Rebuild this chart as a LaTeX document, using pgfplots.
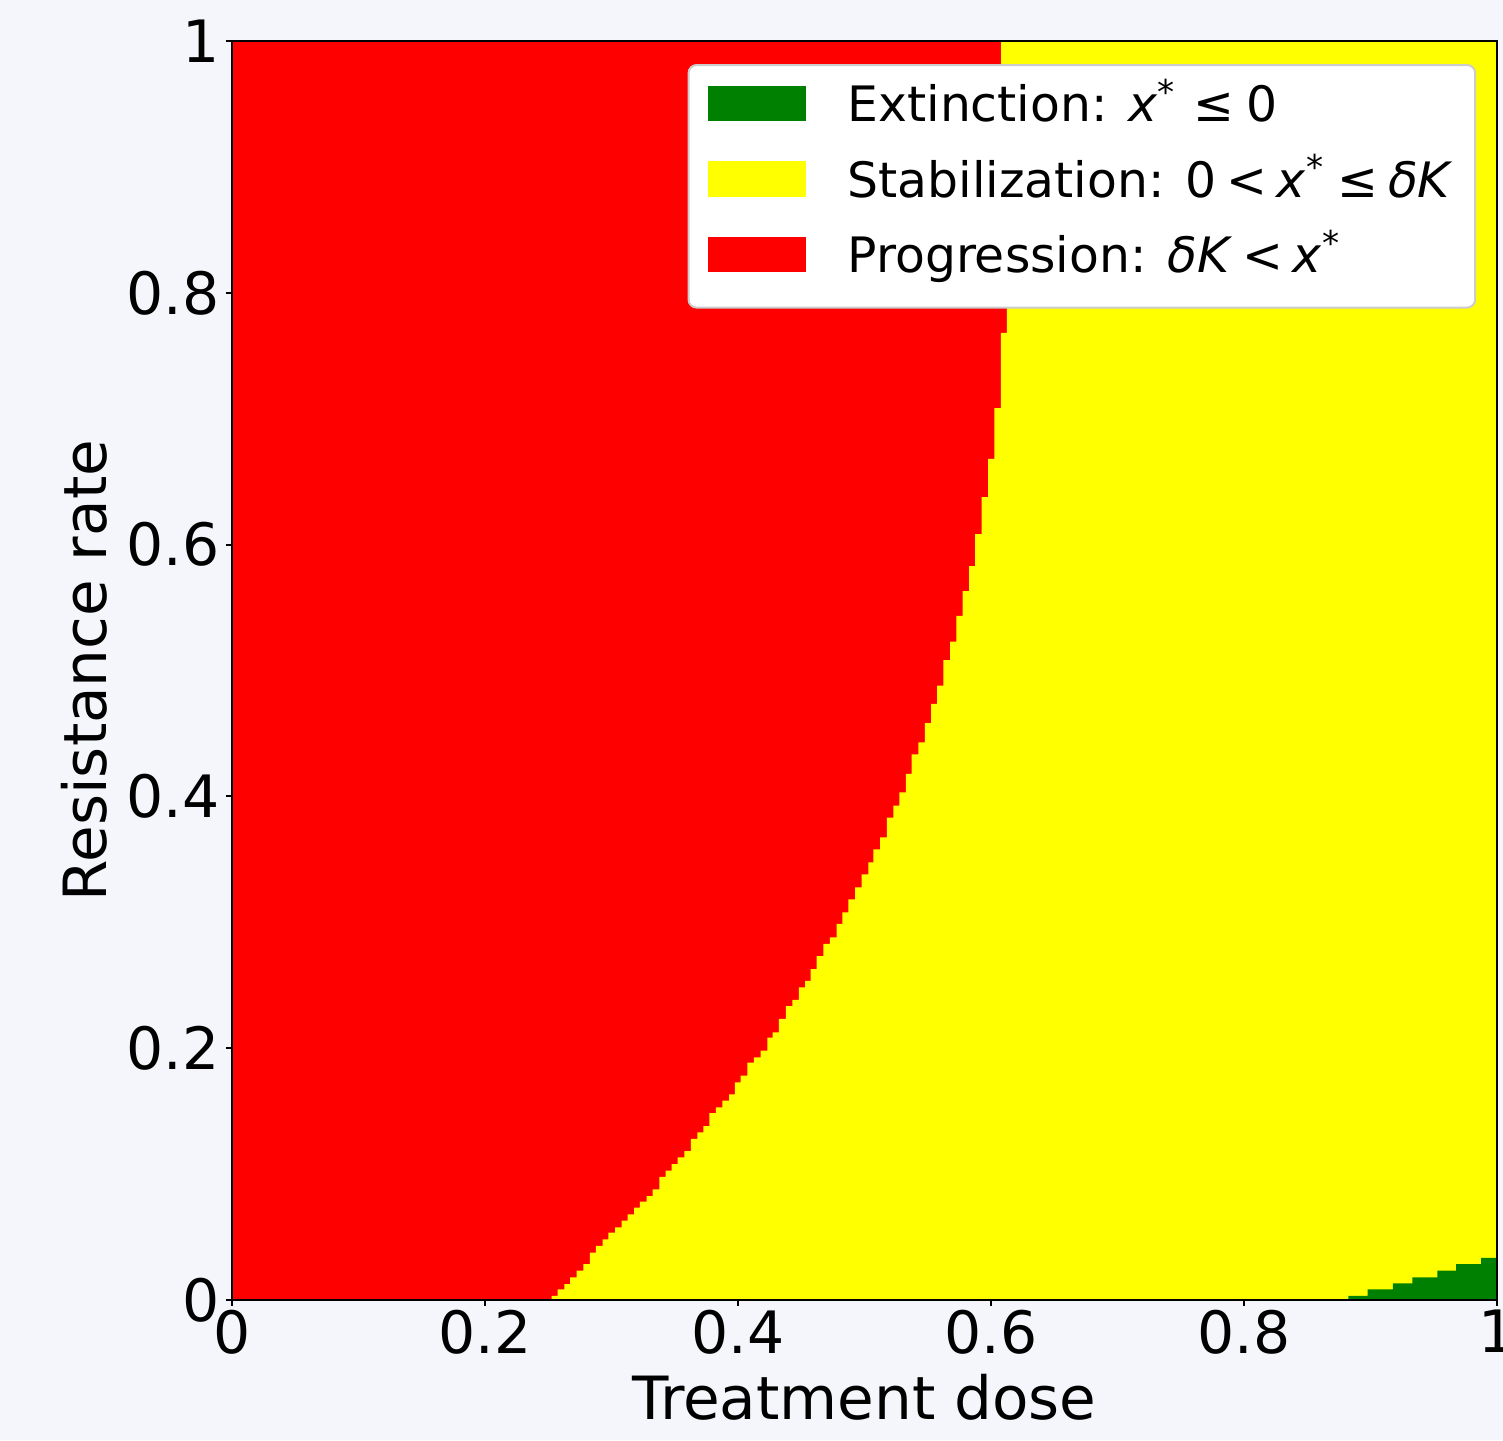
\documentclass[border=0pt]{standalone}
\usepackage{fontspec}
\setmainfont{DejaVu Sans}
\usepackage{pgfplots}
\pgfplotsset{compat=1.18}
\definecolor{figbg}{RGB}{244,246,251}
\definecolor{mplgreen}{RGB}{0,128,0}
\definecolor{mplred}{RGB}{255,0,0}
\definecolor{mplyellow}{RGB}{255,255,0}

\begin{document}
\begin{tikzpicture}
\path[use as bounding box] (0pt,0pt) rectangle (375.75pt,360pt);
\fill[figbg] (0pt,0pt) rectangle (375.75pt,360pt);
\begin{axis}[
  at={(58pt,35pt)}, anchor=south west,
  scale only axis, width=316.25pt, height=314.75pt,
  xmin=0, xmax=1, ymin=0, ymax=1,
  xtick={0,0.2,0.4,0.6,0.8,1},
  ytick={0,0.2,0.4,0.6,0.8,1},
  xtick pos=bottom, ytick pos=left,
  tick align=outside, major tick length=1.4pt,
  tick style={black, line width=0.5pt},
  axis line style={black, line width=0.5pt},
  axis on top=true,
  /pgf/number format/assume math mode=true,
  tick label style={font=\fontsize{14.6}{17}\selectfont},
  xticklabel style={inner sep=0pt, yshift=-1pt},
  yticklabel style={inner sep=0pt, xshift=-1.5pt},
  xlabel={Treatment dose}, ylabel={Resistance rate},
  label style={font=\fontsize{14.9}{18}\selectfont},
  xlabel style={at={(axis description cs:0.5,-0.0953)}, anchor=base},
  ylabel style={at={(axis description cs:-0.0996,0.5)}, anchor=base},
  legend style={at={(0.9835,0.9817)}, anchor=north east, draw=black!20,
    line width=0.5pt, rounded corners=2pt, fill=white,
    font=\fontsize{12.2}{14}\selectfont, inner xsep=4.5pt, inner ysep=2.5pt,
    row sep=4.7pt, cells={anchor=west}, nodes={inner sep=1pt},
    /tikz/every odd column/.append style={column sep=9.5pt}},
  legend image code/.code={\fill[#1, draw=none, sharp corners] (0pt,-4.4pt) rectangle (24.5pt,4.4pt);},
]
% red: progression (whole square first)
\addplot[const plot, fill=mplred, draw=none, forget plot] coordinates {(0,1) (1,1)} \closedcycle;
% yellow: stabilization, column heights read off the boundary
\addplot[const plot, fill=mplyellow, draw=none, forget plot] coordinates {
(0.2527,0.0032) (0.2575,0.0085) (0.2627,0.0127) (0.2672,0.0180) (0.2725,0.0233)
(0.2777,0.0286) (0.2830,0.0376) (0.2877,0.0429) (0.2930,0.0482) (0.2975,0.0535)
(0.3028,0.0577) (0.3081,0.0630) (0.3128,0.0681) (0.3178,0.0733) (0.3225,0.0781)
(0.3278,0.0826) (0.3326,0.0879) (0.3378,0.0979) (0.3428,0.1027) (0.3476,0.1080)
(0.3523,0.1133) (0.3576,0.1183) (0.3628,0.1279) (0.3678,0.1332) (0.3726,0.1382)
(0.3773,0.1485) (0.3826,0.1531) (0.3876,0.1583) (0.3929,0.1634) (0.3976,0.1729)
(0.4021,0.1782) (0.4074,0.1885) (0.4126,0.1928) (0.4179,0.1980) (0.4232,0.2084)
(0.4274,0.2126) (0.4324,0.2232) (0.4379,0.2335) (0.4429,0.2383) (0.4482,0.2484)
(0.4530,0.2534) (0.4575,0.2629) (0.4622,0.2732) (0.4674,0.2828) (0.4727,0.2881)
(0.4780,0.2987) (0.4825,0.3079) (0.4872,0.3183) (0.4925,0.3278) (0.4978,0.3381)
(0.5030,0.3477) (0.5070,0.3580) (0.5123,0.3675) (0.5176,0.3831) (0.5228,0.3926)
(0.5275,0.4033) (0.5328,0.4178) (0.5373,0.4334) (0.5425,0.4430) (0.5478,0.4583)
(0.5526,0.4734) (0.5575,0.4880) (0.5623,0.5083) (0.5676,0.5229) (0.5727,0.5433)
(0.5776,0.5631) (0.5828,0.5830) (0.5874,0.6084) (0.5926,0.6378) (0.5978,0.6680)
(0.6026,0.7085) (0.6079,0.7681) (0.6126,1) (1,1)
} \closedcycle;
\addplot[fill=mplyellow, draw=none, forget plot] coordinates {
(0.6079,0.97) (0.6126,0.97) (0.6126,1) (0.6079,1)} -- cycle;
% green: extinction
\addplot[const plot, fill=mplgreen, draw=none, forget plot] coordinates {
(0.8825,0.0032) (0.8978,0.0085) (0.9176,0.0133) (0.9331,0.0180)
(0.9528,0.0233) (0.9676,0.0286) (0.9874,0.0335) (1,0.0335)
} \closedcycle;

\addlegendimage{fill=mplgreen}
\addlegendentry{Extinction: \textit{x}\textsuperscript{*}\hspace{0.35em}≤\hspace{0.25em}0}
\addlegendimage{fill=mplyellow}
\addlegendentry{Stabilization: 0\hspace{0.2em}<\hspace{0.2em}\textit{x}\textsuperscript{*}\hspace{0.25em}≤\hspace{0.2em}\textit{δK}}
\addlegendimage{legend image code/.code={\fill[mplred, draw=none, sharp corners] (0pt,-4.4pt) rectangle (24.5pt,4.4pt);
    \path (0pt,-10.5pt);}}
\addlegendentry{Progression: \textit{δK}\hspace{0.2em}<\hspace{0.2em}\textit{x}\textsuperscript{*}}
\end{axis}
\end{tikzpicture}
\end{document}
